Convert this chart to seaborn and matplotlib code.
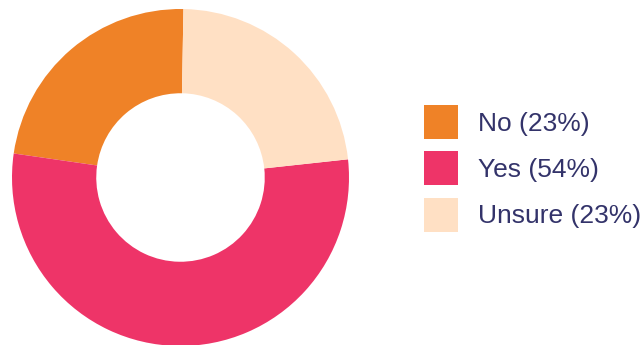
import matplotlib
matplotlib.use("Agg")
import matplotlib.pyplot as plt
import seaborn as sns

# Survey responses
labels = ["No", "Yes", "Unsure"]
shares = [23, 54, 23]
colors = ["#EF8227", "#EE3468", "#FFE0C4"]
text_color = "#33336A"

sns.set_theme(style="white")
plt.rcParams["font.family"] = ["Liberation Sans", "DejaVu Sans"]

W, H = 641, 345
fig = plt.figure(figsize=(W / 100, H / 100), dpi=100)
fig.patch.set_facecolor("white")

# square axes for the donut
cx, cy, r = 180.5, 177.5, 168.5
ax = fig.add_axes([(cx - r) / W, (H - cy - r) / H, 2 * r / W, 2 * r / H])
ax.set_facecolor("white")

wedges, _ = ax.pie(
    shares,
    colors=colors,
    startangle=89,
    counterclock=True,
    radius=1,
    wedgeprops=dict(width=0.5, edgecolor="none", linewidth=0),
)
ax.set_xlim(-1, 1)
ax.set_ylim(-1, 1)
ax.set_aspect("equal")
ax.axis("off")

legend_labels = [f"{l} ({s}%)" for l, s in zip(labels, shares)]
leg = fig.legend(
    wedges,
    legend_labels,
    loc="upper left",
    bbox_to_anchor=(424 / W, 1 - 105 / H),
    frameon=False,
    fontsize=19,
    handlelength=1.29,
    handleheight=1.6,
    handletextpad=0.76,
    labelspacing=0.47,
    borderpad=0,
    borderaxespad=0,
)
for t in leg.get_texts():
    t.set_color(text_color)

fig.savefig("out.png", dpi=100, facecolor="white")
